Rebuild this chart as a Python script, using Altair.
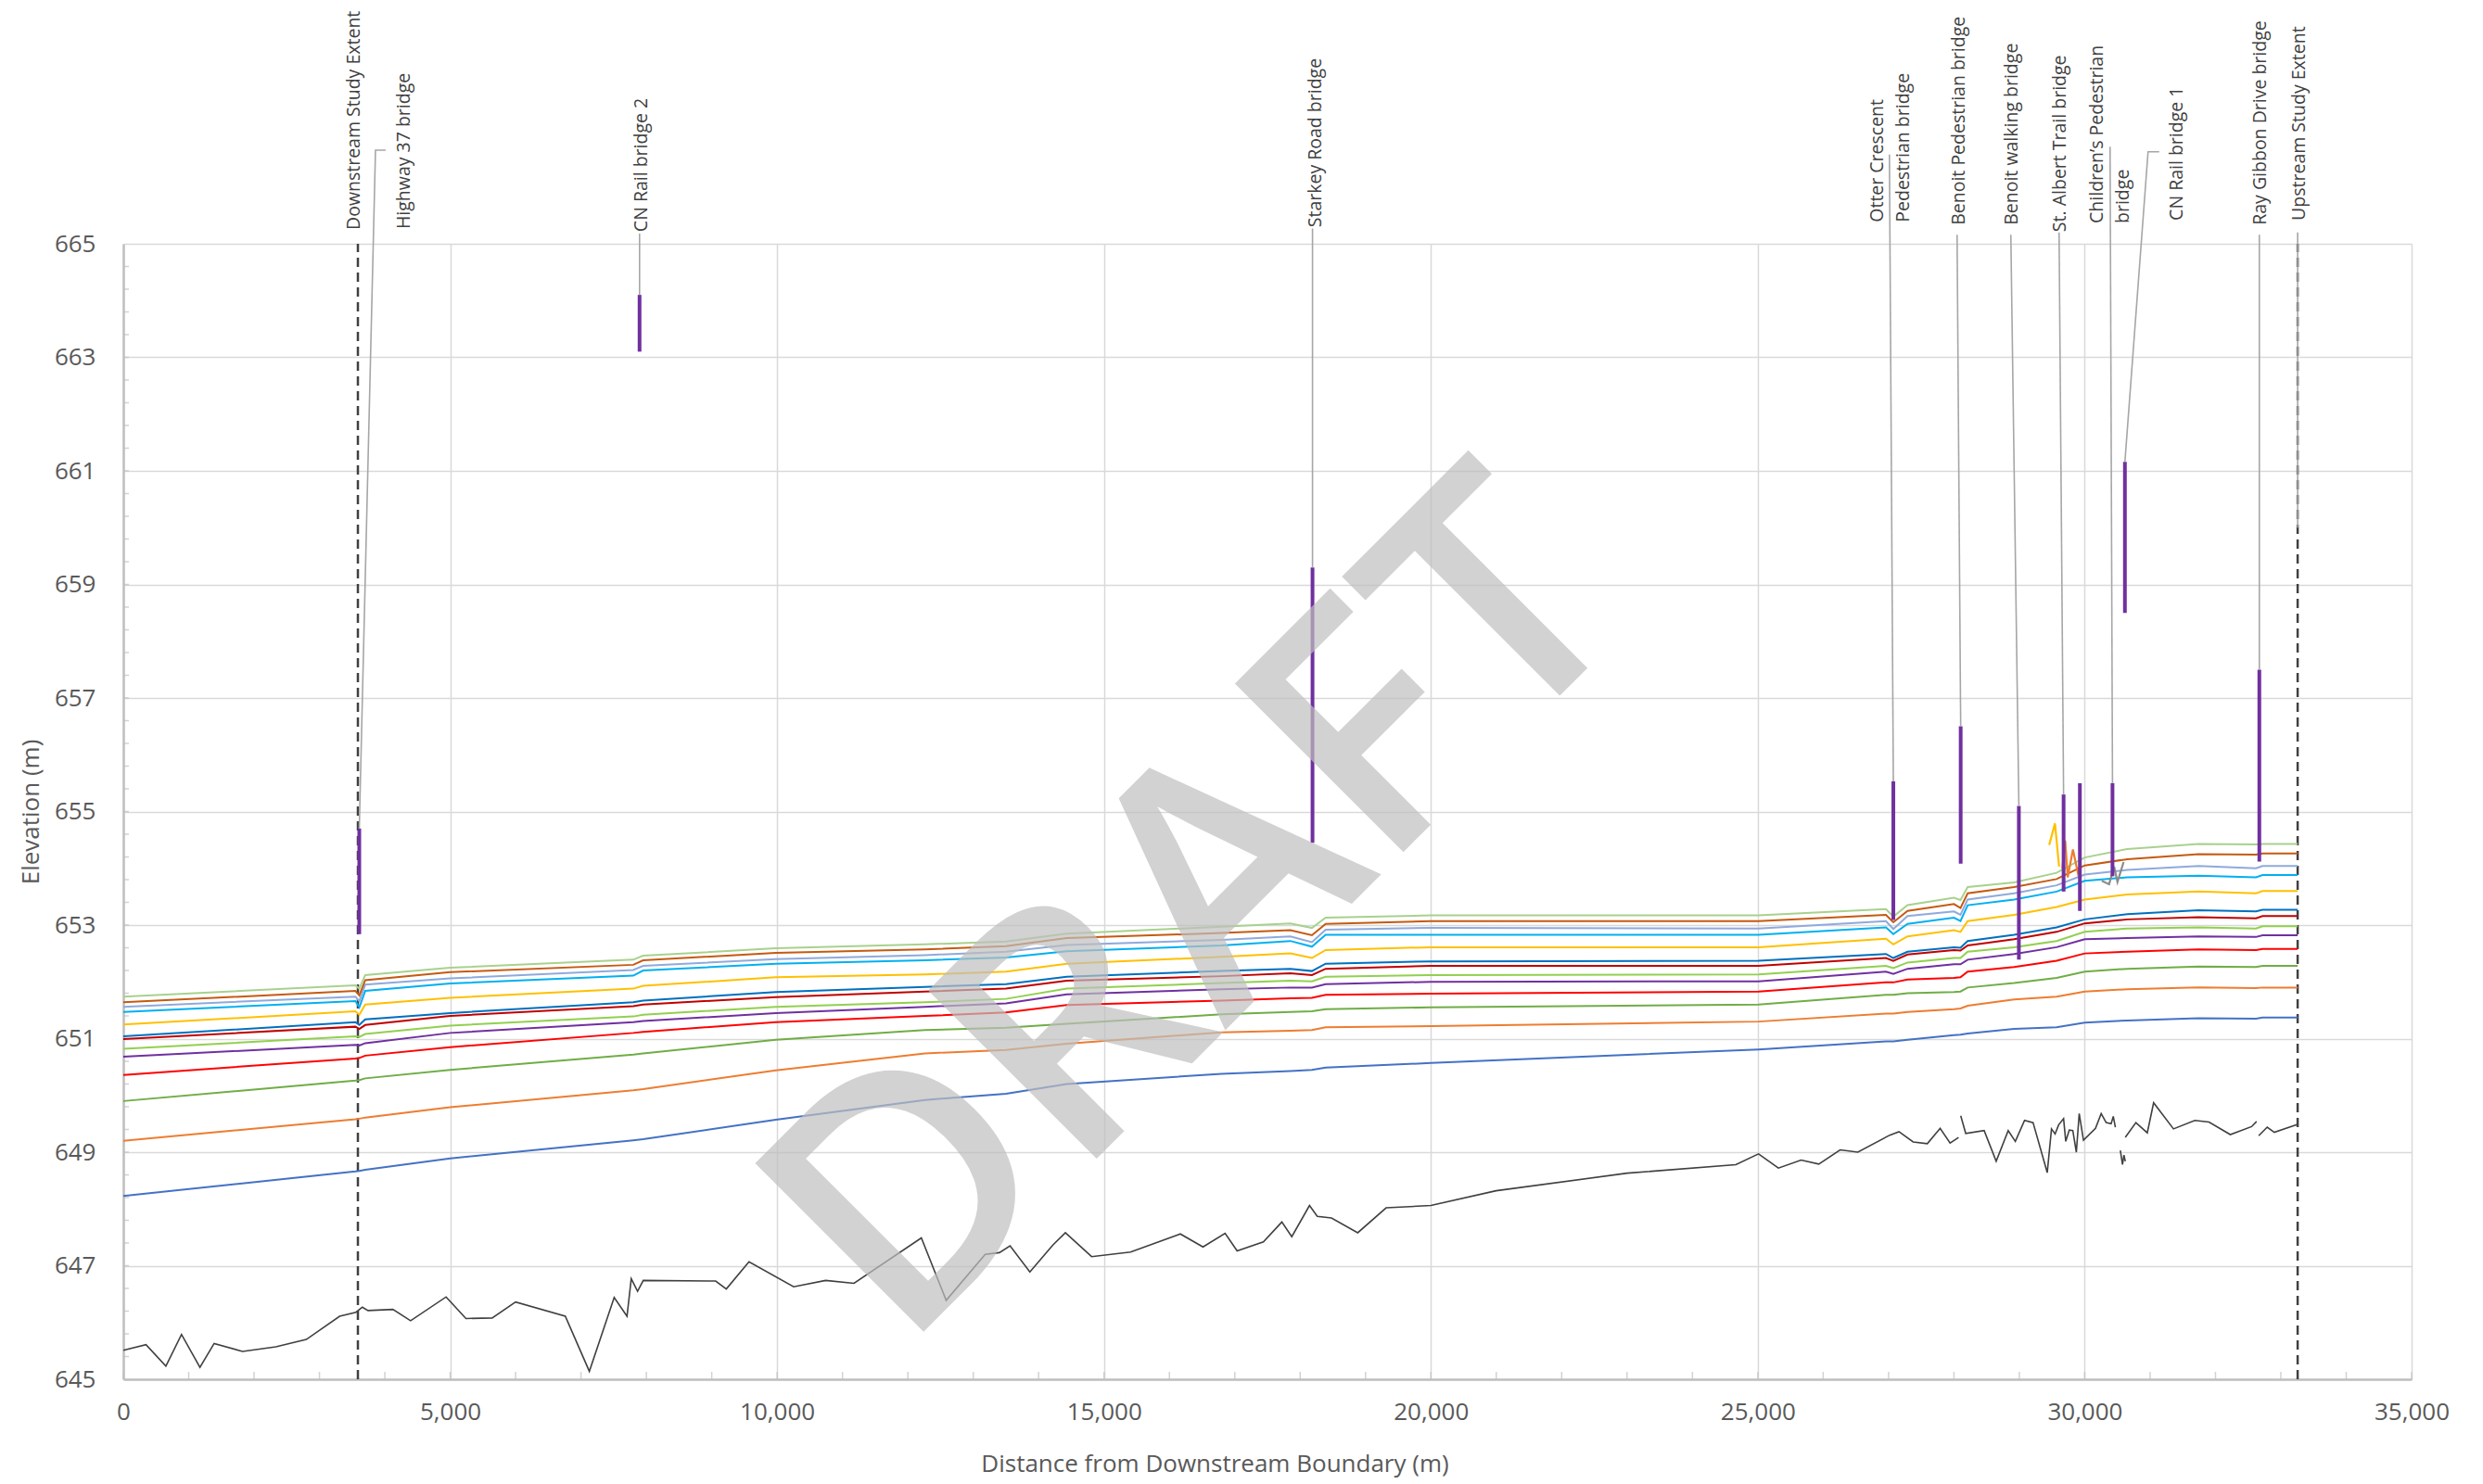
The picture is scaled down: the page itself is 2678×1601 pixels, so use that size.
import altair as alt
import pandas as pd

# ---------------- data ----------------
stations = [0, 3550, 3610, 3700, 5000, 7800, 7950, 9980, 12260, 13500, 14430, 16800, 17850,
            18180, 18390, 20000, 25010, 26960, 27073, 27290, 28000, 28100, 28210, 28920,
            29570, 30000, 30650, 31740, 32620, 32720, 33257]

series_names = ["P01", "P02", "P03", "P04", "P05", "P06", "P07", "P08", "P09", "P10", "P11", "P12", "P13"]
series_colors = ["#4472C4", "#ED7D31", "#70AD47", "#FF0000", "#7030A0", "#92D050", "#C00000",
                 "#0070C0", "#FFC000", "#00B0F0", "#8FAADC", "#C55A11", "#A9D18E"]
series_widths = [2, 2, 2.5, 2.5, 2.5, 2.5, 3, 3, 3.5, 4, 4, 3.5, 4]

p1 = [648.23, 648.66, 648.67, 648.69, 648.89, 649.21, 649.23, 649.57, 649.92, 650.03, 650.20, 650.38, 650.43,
      650.45, 650.49, 650.57, 650.81, 650.95, 650.95, 650.98, 651.06, 651.07, 651.09, 651.17,
      651.20, 651.28, 651.32, 651.36, 651.35, 651.37, 651.37]
p2 = [649.20, 649.58, 649.59, 649.61, 649.79, 650.09, 650.11, 650.44, 650.74, 650.80, 650.91, 651.11, 651.14,
      651.15, 651.20, 651.22, 651.30, 651.44, 651.44, 651.47, 651.52, 651.53, 651.58, 651.69,
      651.74, 651.83, 651.87, 651.90, 651.89, 651.90, 651.90]
p3 = [649.90, 650.26, 650.27, 650.30, 650.45, 650.72, 650.74, 650.98, 651.15, 651.19, 651.26, 651.43, 651.47,
      651.48, 651.52, 651.55, 651.60, 651.77, 651.77, 651.80, 651.82, 651.83, 651.90, 651.98,
      652.07, 652.18, 652.23, 652.27, 652.26, 652.28, 652.28]
p4 = [650.36, 650.65, 650.66, 650.70, 650.85, 651.10, 651.12, 651.29, 651.40, 651.46, 651.59, 651.67, 651.71,
      651.72, 651.77, 651.79, 651.83, 651.99, 651.99, 652.04, 652.07, 652.08, 652.18, 652.26,
      652.37, 652.50, 652.53, 652.57, 652.56, 652.58, 652.58]
p5 = [650.68, 650.89, 650.88, 650.92, 651.10, 651.29, 651.31, 651.45, 651.56, 651.62, 651.78, 651.87, 651.90,
      651.90, 651.96, 652.00, 652.01, 652.18, 652.14, 652.23, 652.31, 652.31, 652.39, 652.49,
      652.61, 652.75, 652.77, 652.80, 652.79, 652.82, 652.82]
p6 = [650.82, 651.04, 651.03, 651.08, 651.23, 651.39, 651.42, 651.56, 651.64, 651.70, 651.88, 651.98, 652.02,
      652.01, 652.09, 652.12, 652.13, 652.28, 652.24, 652.34, 652.42, 652.42, 652.53, 652.61,
      652.72, 652.88, 652.94, 652.96, 652.94, 652.98, 652.98]
p7 = [650.99, 651.21, 651.17, 651.24, 651.40, 651.57, 651.60, 651.73, 651.83, 651.88, 652.02, 652.10, 652.15,
      652.12, 652.23, 652.28, 652.28, 652.42, 652.37, 652.48, 652.56, 652.55, 652.64, 652.75,
      652.88, 653.03, 653.10, 653.14, 653.12, 653.16, 653.16]
p8 = [651.04, 651.29, 651.24, 651.34, 651.45, 651.64, 651.67, 651.82, 651.91, 651.96, 652.09, 652.19, 652.23,
      652.19, 652.32, 652.36, 652.37, 652.49, 652.42, 652.53, 652.61, 652.60, 652.72, 652.83,
      652.96, 653.10, 653.19, 653.26, 653.24, 653.27, 653.27]
p9 = [651.25, 651.48, 651.42, 651.60, 651.72, 651.88, 651.93, 652.08, 652.13, 652.18, 652.32, 652.44, 652.50,
      652.42, 652.56, 652.61, 652.61, 652.76, 652.66, 652.80, 652.91, 652.88, 653.07, 653.18,
      653.32, 653.45, 653.54, 653.59, 653.56, 653.60, 653.60]
p10 = [651.47, 651.66, 651.55, 651.84, 651.97, 652.11, 652.20, 652.32, 652.38, 652.43, 652.54, 652.64, 652.72,
       652.62, 652.83, 652.83, 652.83, 652.96, 652.84, 653.02, 653.13, 653.07, 653.35, 653.45,
       653.59, 653.78, 653.84, 653.87, 653.84, 653.88, 653.88]
p11 = [651.56, 651.74, 651.66, 651.95, 652.06, 652.21, 652.28, 652.40, 652.47, 652.53, 652.65, 652.74, 652.80,
       652.70, 652.92, 652.95, 652.94, 653.07, 652.93, 653.16, 653.24, 653.18, 653.45, 653.56,
       653.70, 653.89, 653.97, 654.04, 654.00, 654.04, 654.04]
p12 = [651.64, 651.84, 651.76, 652.03, 652.17, 652.30, 652.38, 652.51, 652.57, 652.63, 652.77, 652.86, 652.91,
       652.82, 653.02, 653.07, 653.07, 653.18, 653.05, 653.25, 653.37, 653.30, 653.56, 653.67,
       653.81, 654.05, 654.16, 654.25, 654.24, 654.26, 654.26]
p13 = [651.74, 651.94, 651.88, 652.12, 652.25, 652.39, 652.46, 652.59, 652.66, 652.71, 652.85, 652.97, 653.03,
       652.95, 653.13, 653.17, 653.17, 653.28, 653.15, 653.35, 653.48, 653.44, 653.67, 653.75,
       653.92, 654.19, 654.34, 654.43, 654.42, 654.43, 654.43]
profiles = [p1, p2, p3, p4, p5, p6, p7, p8, p9, p10, p11, p12, p13]

# small unstable fragments near the St. Albert reach
frag_id = ["y", "y", "y", "o", "o", "o", "o", "o", "o", "g", "g", "g", "g", "g"]
frag_color = ["#FFC000"] * 3 + ["#ED7D31"] * 6 + ["#8C8C8C"] * 5
frag_x = [29457, 29545, 29608, 29658, 29702, 29740, 29820, 29895, 29943, 30260, 30373, 30450, 30501, 30595]
frag_z = [654.41, 654.79, 654.03, 654.00, 654.49, 653.84, 654.33, 653.92, 654.06, 653.78, 653.72, 654.03, 653.76, 654.11]

# channel bed (thalweg)
bed_seg = [0] * 72 + [1] * 25 + [2] * 4 + [3] * 10 + [4] * 4
bed_x = [0, 347, 651, 890, 1172, 1389, 1823, 2333, 2799, 3309, 3559, 3656, 3743, 4123, 4394, 4937,
         5241, 5642, 6000, 6760, 7128, 7508, 7704, 7769, 7866, 7953, 9060, 9223, 9570, 10253, 10742,
         11176, 12206, 12586, 13183, 13400, 13563, 13866, 14214, 14409, 14810, 15407, 16167, 16514,
         16852, 17036, 17438, 17720, 17872, 18143, 18262, 18479, 18881, 19315, 20000, 20997, 23004,
         24664, 25011, 25315, 25662, 25933, 26259, 26530, 27018, 27159, 27376, 27593, 27789, 27941,
         28071, 28071,
         28104, 28180, 28462, 28646, 28830, 28939, 29080, 29210, 29427, 29492, 29547, 29601, 29677,
         29710, 29764, 29818, 29872, 29916, 29981, 30165, 30252, 30328, 30404, 30437, 30469,
         30545, 30578, 30600, 30621,
         30621, 30783, 30957, 31054, 31358, 31684, 31901, 32227, 32553, 32629,
         32661, 32792, 32900, 33257]
bed_z = [645.51, 645.61, 645.23, 645.79, 645.21, 645.63, 645.49, 645.57, 645.70, 646.11, 646.18, 646.27,
         646.21, 646.23, 646.03, 646.45, 646.07, 646.08, 646.36, 646.11, 645.14, 646.44, 646.11, 646.77,
         646.55, 646.74, 646.73, 646.59, 647.07, 646.63, 646.74, 646.69, 647.49, 646.39, 647.20, 647.23,
         647.35, 646.89, 647.36, 647.58, 647.16, 647.24, 647.56, 647.33, 647.57, 647.26, 647.42, 647.77,
         647.51, 648.06, 647.87, 647.84, 647.58, 648.02, 648.06, 648.32, 648.63, 648.78, 648.97, 648.72,
         648.86, 648.79, 649.04, 649.00, 649.30, 649.36, 649.18, 649.15, 649.42, 649.16, 649.26, 649.26,
         649.64, 649.33, 649.38, 648.84, 649.38, 649.19, 649.56, 649.52, 648.64, 649.41, 649.32, 649.48,
         649.59, 649.19, 649.39, 649.38, 649.00, 649.68, 649.21, 649.42, 649.68, 649.52, 649.50, 649.63,
         649.44,
         649.03, 648.78, 648.95, 648.84,
         649.26, 649.52, 649.34, 649.87, 649.41, 649.56, 649.53, 649.31, 649.45, 649.54,
         649.29, 649.44, 649.35, 649.49]

# bridge decks (low chord / high chord)
bridge_x = [3609, 7896, 18189, 27073, 28103, 28993, 29677, 29926, 30425, 30615, 32671]
bridge_low = [652.84, 663.10, 654.45, 653.09, 654.08, 652.39, 653.59, 653.25, 653.86, 658.50, 654.12]
bridge_high = [654.70, 664.10, 659.30, 655.53, 656.50, 655.10, 655.30, 655.50, 655.50, 661.16, 657.50]

# study extents
extent_x = [3588, 33257]

# annotation labels
label_text = ["Downstream Study Extent", "Highway 37 bridge", "CN Rail bridge 2", "Starkey Road bridge",
              "Otter Crescent\nPedestrian bridge", "Benoit Pedestrian bridge", "Benoit walking bridge",
              "St. Albert Trail bridge", "Children\u2019s Pedestrian\nbridge", "CN Rail bridge 1",
              "Ray Gibbon Drive bridge", "Upstream Study Extent"]
label_x = [3530, 4297, 7926, 18235, 26829, 28076, 28885, 29622, 30189, 31409, 32685, 33280]
label_y = [665.245, 665.26, 665.21, 665.29, 665.38, 665.33, 665.33, 665.21, 665.36, 665.41, 665.33, 665.41]

# leader lines
leader_id = [0, 0, 0, 1, 1, 2, 2, 3, 3, 4, 4, 5, 5, 6, 6, 7, 7, 8, 8, 8, 9, 9, 10, 10]
leader_x = [4013, 3857, 3609, 7896, 7896, 18189, 18189, 27013, 27073, 28048, 28103, 28870, 28993,
            29608, 29677, 30388, 30425, 31139, 30969, 30615, 32671, 32671, 33257, 33257]
leader_y = [666.65, 666.65, 654.70, 665.18, 664.10, 665.27, 659.30, 666.57, 655.53, 665.16, 656.50,
            665.16, 655.10, 665.20, 655.30, 666.71, 655.50, 666.62, 666.62, 661.16, 665.16, 657.50,
            665.20, 660.00]

watermark_text = ["DRAFT"]
watermark_x = [16470]
watermark_y = [653.2]

x_major = [0, 5000, 10000, 15000, 20000, 25000, 30000, 35000]
y_major = [645, 647, 649, 651, 653, 655, 657, 659, 661, 663, 665]
x_minor = list(range(0, 35001, 1000))
y_minor = [round(645 + 0.4 * i, 1) for i in range(1, 50)]

# ---------------- frames ----------------
prof_rows = []
for name, vals in zip(series_names, profiles):
    for k, (s, v) in enumerate(zip(stations, vals)):
        prof_rows.append({"series": name, "station": s, "elev": v, "k": k})
df_prof = pd.DataFrame(prof_rows)
df_frag = pd.DataFrame({"fid": frag_id, "col": frag_color, "x": frag_x, "z": frag_z,
                        "k": list(range(len(frag_x)))})
df_bed = pd.DataFrame({"seg": bed_seg, "x": bed_x, "z": bed_z, "k": list(range(len(bed_x)))})
df_bridge = pd.DataFrame({"x": bridge_x, "lo": bridge_low, "hi": bridge_high})
df_ext = pd.DataFrame({"x": extent_x})
df_lab = pd.DataFrame({"t": label_text, "x": label_x, "y": label_y})
df_lead = pd.DataFrame({"id": leader_id, "x": leader_x, "y": leader_y, "k": list(range(len(leader_x)))})
df_wm = pd.DataFrame({"t": watermark_text, "x": watermark_x, "y": watermark_y})
df_xmin = pd.DataFrame({"t": x_minor})
df_ymin = pd.DataFrame({"t": y_minor})

FONT = "Open Sans"
TXT = "#595959"
xscale = alt.Scale(domain=[0, 35000], nice=False, zero=False)
yscale = alt.Scale(domain=[645, 665], nice=False, zero=False)

x_axis = alt.Axis(values=x_major, labelExpr="format(datum.value, ',')", grid=True,
                  gridColor="#D9D9D9", gridWidth=1.5,
                  domainColor="#BFBFBF", domainWidth=2.5, ticks=False, labelFlush=False,
                  labelFont=FONT, labelFontSize=26, labelColor=TXT, labelPadding=22,
                  title="Distance from Downstream Boundary (m)", titleFont=FONT, titleFontSize=26,
                  titleFontWeight="normal", titleColor=TXT, titleX=1177, titleY=91,
                  titleBaseline="middle")
y_axis = alt.Axis(values=y_major, labelExpr="format(datum.value, 'd')", grid=True,
                  gridColor="#D9D9D9", gridWidth=1.5,
                  domainColor="#BFBFBF", domainWidth=2.5, ticks=False, labelFlush=False,
                  labelOverlap=False, labelFont=FONT, labelFontSize=26, labelColor=TXT,
                  labelPadding=30, title="Elevation (m)", titleFont=FONT, titleFontSize=26,
                  titleFontWeight="normal", titleColor=TXT, titlePadding=12)


def X(f):
    return alt.X(f, type="quantitative", scale=xscale, axis=x_axis)


def Y(f):
    return alt.Y(f, type="quantitative", scale=yscale, axis=y_axis)


xminor = alt.Chart(df_xmin).mark_tick(orient="vertical", size=8, thickness=1.5, color="#BFBFBF",
                                      yOffset=-4).encode(
    x=X("t"), y=alt.Y(datum=645, scale=yscale, axis=y_axis))

yminor = alt.Chart(df_ymin).mark_tick(orient="horizontal", size=6, thickness=1.5, color="#BFBFBF",
                                      xOffset=3).encode(
    x=alt.X(datum=0, scale=xscale, axis=x_axis), y=Y("t"))

extents = alt.Chart(df_ext).mark_rule(color="#404040", strokeWidth=2.5, strokeDash=[10, 6]).encode(
    x=X("x"), y=alt.Y(datum=645, scale=yscale, axis=y_axis), y2=alt.Y2(datum=665))

bed = alt.Chart(df_bed).mark_line(color="#404040", strokeWidth=1.6).encode(
    x=X("x"), y=Y("z"), detail="seg:N", order="k:Q")

prof = alt.Chart(df_prof).mark_line().encode(
    x=X("station"), y=Y("elev"),
    color=alt.Color("series:N", scale=alt.Scale(domain=series_names, range=series_colors), legend=None),
    strokeWidth=alt.StrokeWidth("series:O", scale=alt.Scale(domain=series_names, range=series_widths),
                                legend=None),
    detail="series:N", order="k:Q")

frag = alt.Chart(df_frag).mark_line(strokeWidth=2.2).encode(
    x=X("x"), y=Y("z"), color=alt.Color("col:N", scale=None), detail="fid:N", order="k:Q")

bridges = alt.Chart(df_bridge).mark_rule(color="#7030A0", strokeWidth=4).encode(
    x=X("x"), y=Y("lo"), y2="hi:Q")

leaders = alt.Chart(df_lead).mark_line(color="#A6A6A6", strokeWidth=1.6, clip=False).encode(
    x=X("x"), y=Y("y"), detail="id:N", order="k:Q")

labels = alt.Chart(df_lab).mark_text(angle=270, align="left", baseline="middle", font=FONT,
                                     fontSize=19.5, color="#404040", lineBreak="\n",
                                     lineHeight=28).encode(
    x=X("x"), y=Y("y"), text="t:N")

watermark = alt.Chart(df_wm).mark_text(angle=315, align="center", baseline="middle", font=FONT,
                                       fontSize=360, fontWeight=600, color="#BFBFBF",
                                       opacity=0.7).encode(
    x=X("x"), y=Y("y"), text="t:N")

chart = alt.layer(xminor, yminor, extents, bed, prof, frag, bridges, leaders, labels, watermark).properties(
    width=2468, height=1225,
    autosize=alt.AutoSizeParams(type="none"),
    padding={"left": 125, "top": 255, "right": 69, "bottom": 110},
    background="white",
).configure_view(stroke=None)

chart.save("out.html", embed_options={"renderer": "svg", "actions": False})
